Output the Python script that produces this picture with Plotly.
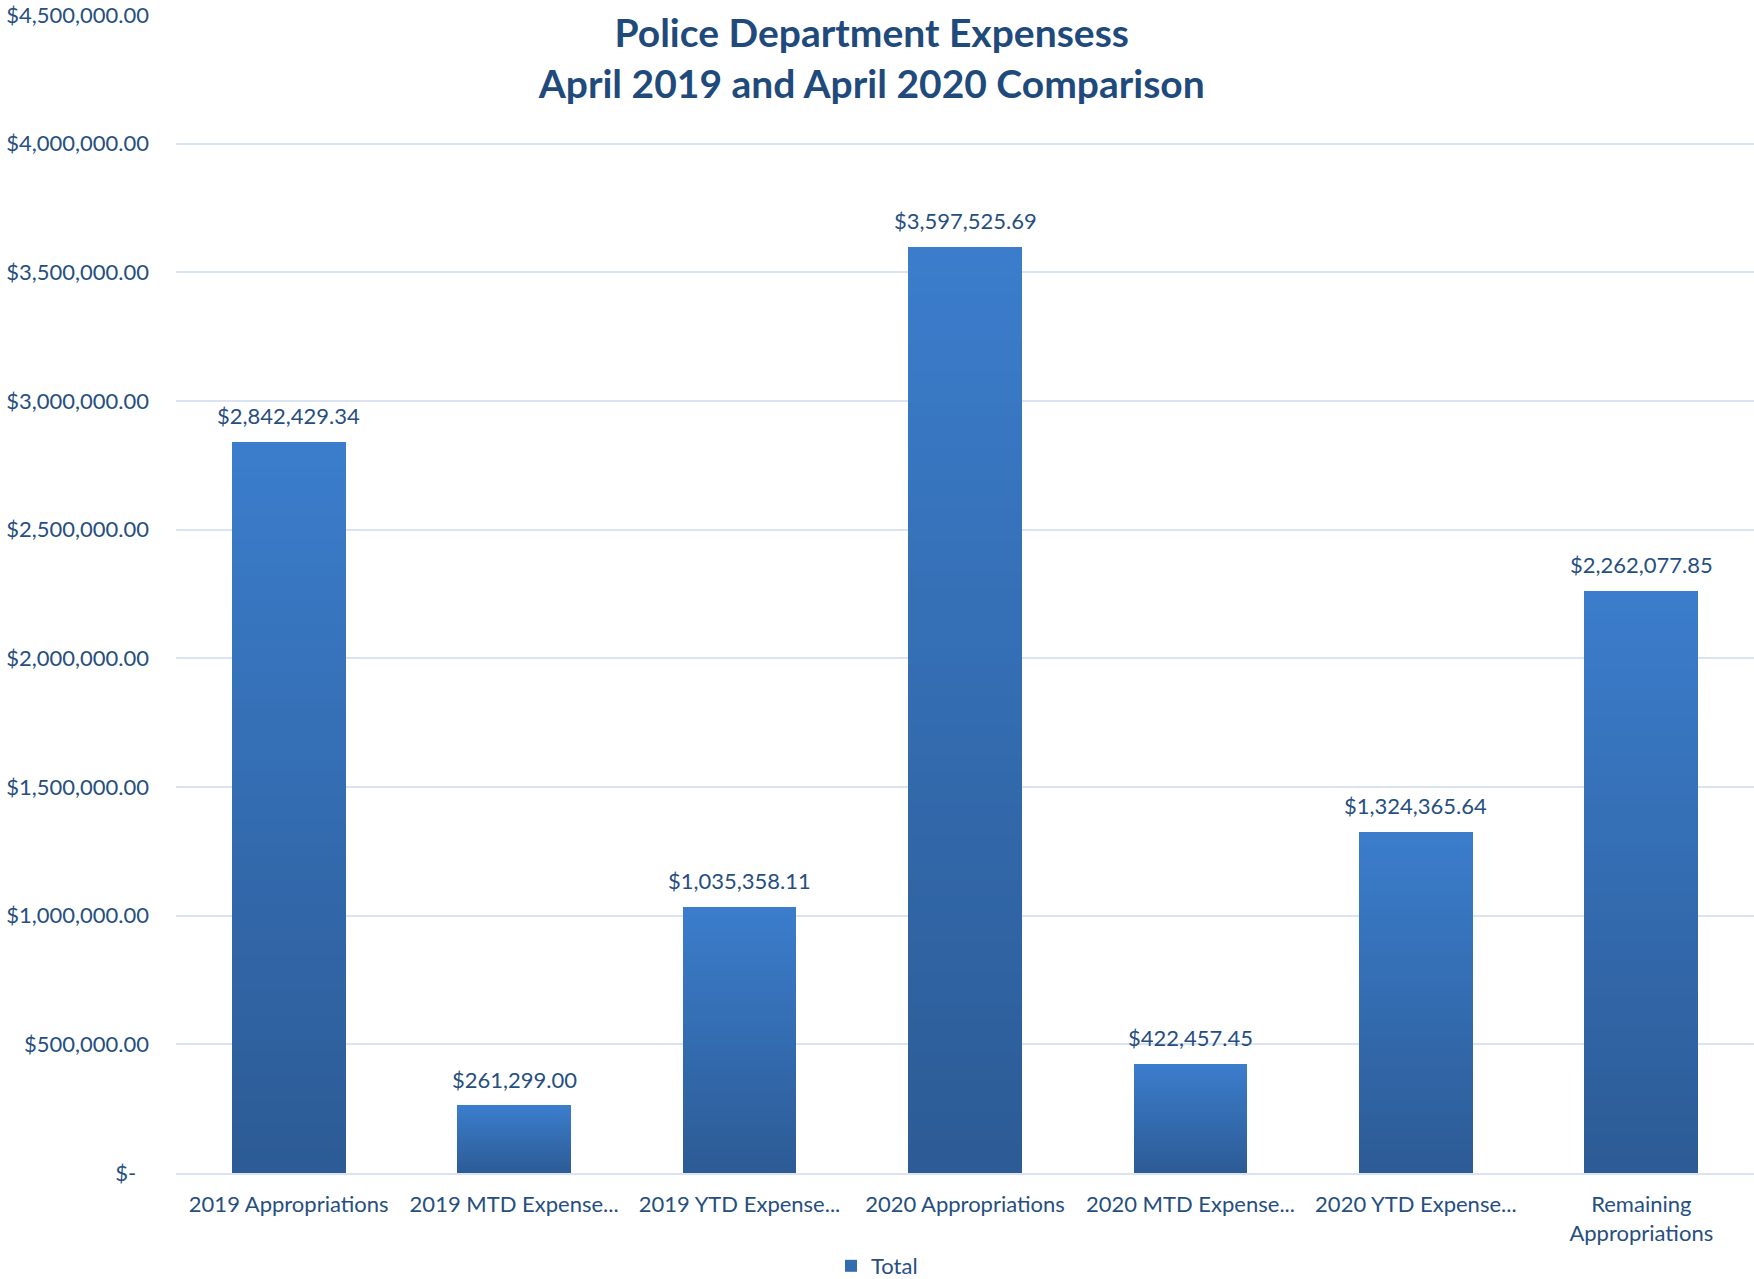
import plotly.graph_objects as go

# Police department expense categories and totals
categories = [
    "2019 Appropriations",
    "2019 MTD Expense...",
    "2019 YTD Expense...",
    "2020 Appropriations",
    "2020 MTD Expense...",
    "2020 YTD Expense...",
    "Remaining<br>Appropriations",
]
totals = [2842429.34, 261299.00, 1035358.11, 3597525.69, 422457.45, 1324365.64, 2262077.85]

y_tick_values = [0, 500000, 1000000, 1500000, 2000000, 2500000, 3000000, 3500000, 4000000, 4500000]
y_tick_labels = ["$-\u2007"] + [f"${v:,.2f}" for v in y_tick_values[1:]]

TEXT_BLUE = "#264f80"
TITLE_BLUE = "#1f4a7c"
GRID = "#d9e3f1"
FONT = "Lato"

# vertical gradient per bar: dark at the base, lighter at the top
BOTTOM_RGB = (44, 91, 149)
TOP_RGB = (59, 125, 204)
N_SLICES = 60


def blend(t):
    r, g, b = (round(lo + (hi - lo) * t) for lo, hi in zip(BOTTOM_RGB, TOP_RGB))
    return f"rgb({r},{g},{b})"


fig = go.Figure()

for i in range(N_SLICES):
    fig.add_trace(go.Bar(
        x=categories,
        y=[v / N_SLICES for v in totals],
        marker=dict(color=blend((i + 0.5) / N_SLICES), line=dict(width=0)),
        showlegend=False,
        hoverinfo="skip",
    ))

# legend entry for the series
fig.add_trace(go.Bar(
    x=[categories[0]],
    y=[0],
    name="Total",
    marker=dict(color=blend(0.5), line=dict(width=0)),
    showlegend=True,
    hoverinfo="skip",
))

# value labels above each bar
for cat, val in zip(categories, totals):
    fig.add_annotation(
        x=cat, y=val, text=f"${val:,.2f}",
        showarrow=False, yanchor="bottom", yshift=11,
        font=dict(family=FONT, size=22, color=TEXT_BLUE),
    )

fig.update_layout(
    width=1754,
    height=1279,
    barmode="stack",
    bargap=0.495,
    plot_bgcolor="white",
    paper_bgcolor="white",
    margin=dict(l=176, r=0, t=15, b=106),
    font=dict(family=FONT, color=TEXT_BLUE),
    title=dict(
        text="Police Department Expensess<br>April 2019 and April 2020 Comparison",
        x=0.497, xanchor="center",
        y=1 - 47 / 1279, yanchor="middle",
        font=dict(family=FONT, size=39, color=TITLE_BLUE, weight="bold"),
    ),
    legend=dict(
        orientation="h",
        xref="container", x=0.5, xanchor="center",
        yref="container", y=1 - 1266 / 1279, yanchor="middle",
        font=dict(family=FONT, size=22, color=TEXT_BLUE),
        itemwidth=30,
        bgcolor="rgba(0,0,0,0)",
    ),
    xaxis=dict(
        range=[-0.5, 6.5],
        showgrid=False,
        showline=True, linecolor=GRID, linewidth=2,
        ticks="",
        tickfont=dict(family=FONT, size=22, color=TEXT_BLUE),
        ticklabelstandoff=11,
    ),
    yaxis=dict(
        range=[0, 4500000],
        tickvals=y_tick_values,
        ticktext=y_tick_labels,
        showgrid=True, gridcolor=GRID, gridwidth=2,
        zeroline=False,
        ticks="",
        tickfont=dict(family=FONT, size=22, color=TEXT_BLUE),
        ticklabelstandoff=26,
    ),
)

fig.write_html("out.html")
